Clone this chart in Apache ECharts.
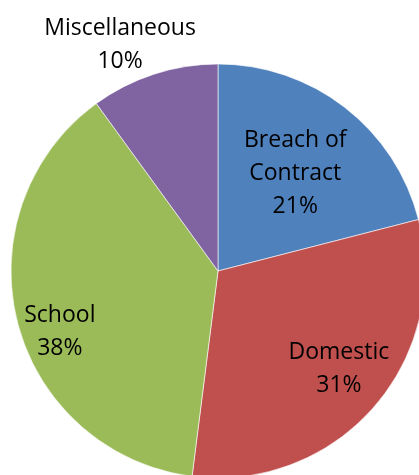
<!DOCTYPE html>
<html>
<head>
<meta charset="utf-8">
<script src="https://cdn.jsdelivr.net/npm/echarts@6/dist/echarts.min.js"></script>
<style>
html,body{margin:0;padding:0;background:#fff;}
#c{width:419px;height:475px;}
</style>
</head>
<body>
<div id="c"></div>
<script>
const categories = ["Breach of Contract", "Domestic", "School", "Miscellaneous"];
const values = [21, 31, 38, 10];
const labelNames = ["Breach of\nContract", "Domestic", "School", "Miscellaneous"];
const colors = ["#4F81BD", "#C0504D", "#9BBB59", "#8064A2"];
const labelOffsets = [[12, -13], [41, 28], [-55, 34], [-65, -125]];

const chart = echarts.init(document.getElementById('c'), null, {renderer: 'canvas'});
const data = categories.map((name, i) => ({
  name: name,
  value: values[i],
  itemStyle: {color: colors[i]},
  label: {offset: labelOffsets[i]}
}));
chart.setOption({
  animation: false,
  series: [{
    type: 'pie',
    center: [218, 271],
    radius: [0, 207],
    startAngle: 90,
    clockwise: true,
    data: data,
    itemStyle: {borderColor: '#ffffff', borderWidth: 0.6},
    label: {
      show: true,
      position: 'inside',
      formatter: p => labelNames[p.dataIndex] + '\n' + Math.round(p.percent) + '%',
      fontFamily: 'Open Sans',
      fontSize: 23,
      lineHeight: 33,
      color: '#000',
      align: 'center'
    },
    labelLine: {show: false},
    emphasis: {disabled: true}
  }]
});
</script>
</body>
</html>
